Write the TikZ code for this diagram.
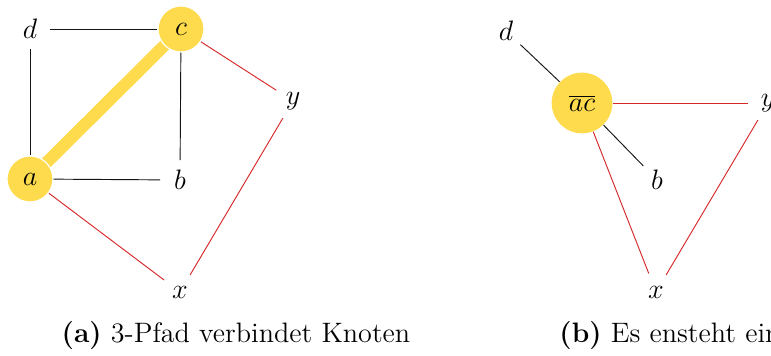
\documentclass[12pt,tikz,border=0pt]{standalone}
\usepackage{tikz}
\usetikzlibrary{positioning}
\definecolor{hlyellow}{RGB}{253,219,77}
\definecolor{edgered}{RGB}{214,39,40}
\definecolor{edgeblack}{RGB}{20,20,20}

\begin{document}
\begin{tikzpicture}[x=0.015cm,y=-0.015cm,
    vert/.style={circle,inner sep=0pt,minimum size=0.58cm},
    hvert/.style={circle,inner sep=0pt,minimum size=0.69cm,fill=hlyellow,
                  draw=white,line width=0.5pt},
    mvert/.style={circle,inner sep=0pt,minimum size=0.91cm,fill=hlyellow},
    bedge/.style={draw=edgeblack,line width=0.4pt},
    redge/.style={draw=edgered,line width=0.4pt},
    hedge/.style={draw=hlyellow,line width=5.2pt},
    capt/.style={anchor=center,inner sep=0pt}
  ]
    \clip (0,0) rectangle (771,356);
    % (a) left graph
    \node[vert] (d1) at (30,29) {$d$};
    \node[vert] (b1) at (180,180) {$b$};
    \node[vert] (y1) at (293,101) {$y$};
    \node[vert] (x1) at (180,292) {$x$};
    \draw[hedge] (30,179) -- (181,29);
    \node[hvert] (a1) at (30,179) {$a$};
    \node[hvert] (c1) at (181,29) {$c$};
    \draw[bedge] (d1) -- (c1);
    \draw[bedge] (d1) -- (a1);
    \draw[bedge] (c1) -- (b1);
    \draw[bedge] (a1) -- (b1);
    \draw[redge] (c1) -- (y1);
    \draw[redge] (y1) -- (x1);
    \draw[redge] (a1) -- (x1);
    % (b) right graph
    \node[vert] (d2) at (506,31) {$d$};
    \node[mvert] (ac2) at (582,103) {$\overline{ac}$};
    \node[vert] (y2) at (768,103) {$y$};
    \node[vert] (b2) at (657,180) {$b$};
    \node[vert] (x2) at (656,292) {$x$};
    \draw[bedge] (d2) -- (ac2);
    \draw[bedge] (ac2) -- (b2);
    \draw[redge] (ac2) -- (y2);
    \draw[redge] (ac2) -- (x2);
    \draw[redge] (y2) -- (x2);
    % captions
    \node[capt] (capa) at (236,335) {\textbf{(a)} 3-Pfad verbindet Knoten};
    \node[capt,anchor=west] (capb) at (559,335) {\textbf{(b)} Es ensteht ein};
\end{tikzpicture}
\end{document}
